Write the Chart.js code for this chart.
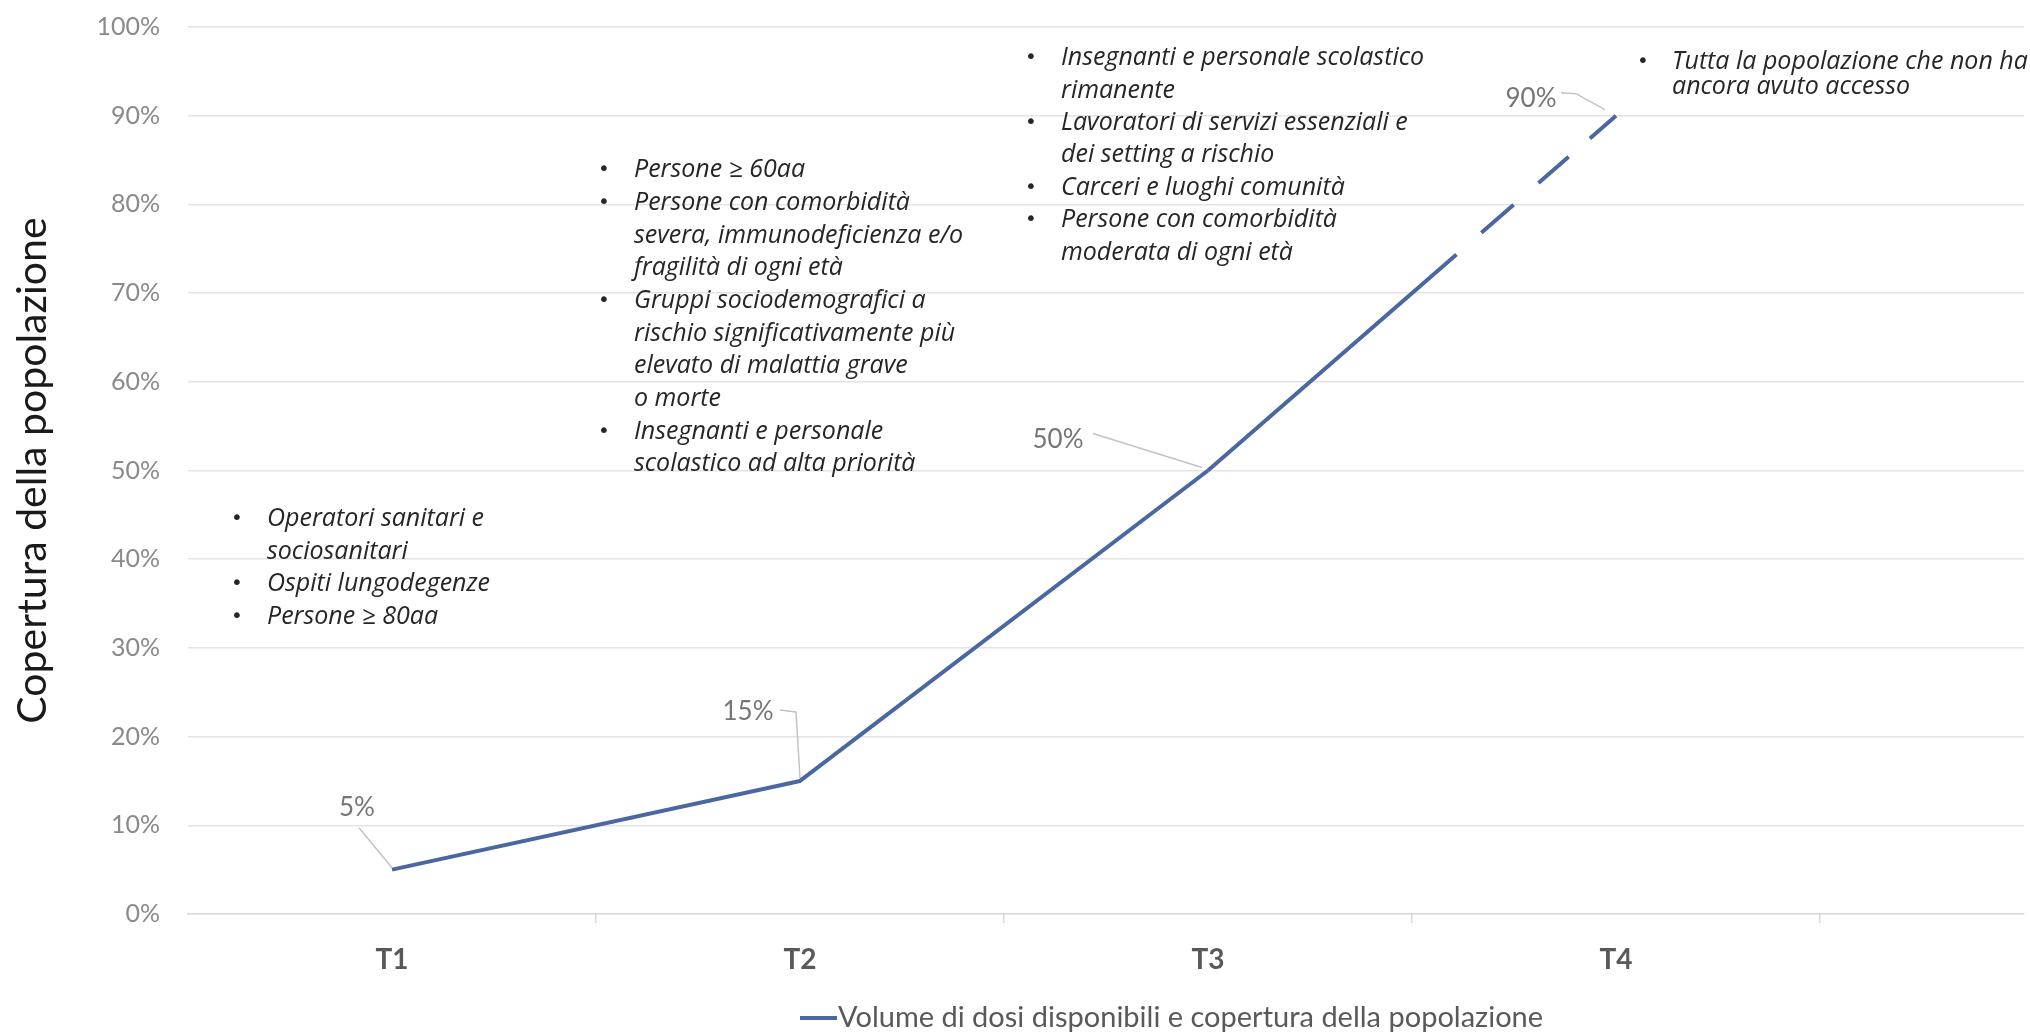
<!DOCTYPE html>
<html>
<head>
<meta charset="utf-8">
<script src="https://cdn.jsdelivr.net/npm/chart.js@4.4.1/dist/chart.umd.min.js"></script>
<style>
html,body{margin:0;padding:0;background:#ffffff;overflow:hidden}
#wrap{position:relative;width:2030px;height:1033px}
</style>
</head>
<body>
<div id="wrap"><canvas id="c"></canvas></div>
<script>
// ---------------- DATA ----------------
const categories = ['T1', 'T2', 'T3', 'T4'];
const coverage = [5, 15, 50, 90];            // % della popolazione
const yTickValues = [0, 10, 20, 30, 40, 50, 60, 70, 80, 90, 100];
const seriesLabel = 'Volume di dosi disponibili e copertura della popolazione';
const yAxisTitle = 'Copertura della popolazione';

// target groups per phase (each bullet = list of wrapped lines)
const groupsT1 = [
  ['Operatori sanitari e', 'sociosanitari'],
  ['Ospiti lungodegenze'],
  ['Persone \u2265 80aa']
];
const groupsT2 = [
  ['Persone \u2265 60aa'],
  ['Persone con comorbidit\u00e0', 'severa, immunodeficienza e/o', 'fragilit\u00e0 di ogni et\u00e0'],
  ['Gruppi sociodemografici a', 'rischio significativamente pi\u00f9', 'elevato di malattia grave', 'o morte'],
  ['Insegnanti e personale', 'scolastico ad alta priorit\u00e0']
];
const groupsT3 = [
  ['Insegnanti e personale scolastico', 'rimanente'],
  ['Lavoratori di servizi essenziali e', 'dei setting a rischio'],
  ['Carceri e luoghi comunit\u00e0'],
  ['Persone con comorbidit\u00e0', 'moderata di ogni et\u00e0']
];
const groupsT4 = [
  ['Tutta la popolazione che non ha', 'ancora avuto accesso']
];

// ---------------- STYLE ----------------
const LINE_COLOR = '#4a67a1';
const notesStyle = [
  { groups: groupsT1, bulletX: 237, textX: 267, y: 519, lh: 32.5 },
  { groups: groupsT2, bulletX: 604, textX: 634, y: 170, lh: 32.7 },
  { groups: groupsT3, bulletX: 1031, textX: 1061, y: 58, lh: 32.4 },
  { groups: groupsT4, bulletX: 1643, textX: 1672, y: 62, lh: 25 }
];
// data label placement relative to the point (style only)
const labelPlacement = [
  { dx: -35, dy: -62, leader: [[-33, -42], [0, -2]] },
  { dx: -52, dy: -69, leader: [[-20, -71], [-4, -69], [0, -3]] },
  { dx: -150, dy: -31, leader: [[-115, -37], [-6, -3]] },
  { dx: -85, dy: -17, leader: [[-55, -23], [-40, -22], [-11, -6]] }
];

const notesPlugin = {
  id: 'notes',
  afterDraw(chart) {
    const ctx = chart.ctx;
    ctx.save();
    ctx.textBaseline = 'middle';
    ctx.fillStyle = '#262626';
    notesStyle.forEach(block => {
      let y = block.y;
      block.groups.forEach(item => {
        ctx.font = '20px "DejaVu Sans"';
        ctx.textAlign = 'center';
        ctx.fillText('\u2022', block.bulletX, y);
        ctx.textAlign = 'left';
        ctx.font = 'italic 25px "Open Sans"';
        item.forEach(line => {
          ctx.fillText(line, block.textX, y);
          y += block.lh;
        });
      });
    });
    ctx.restore();
  }
};

const dataLabelPlugin = {
  id: 'dataLabels',
  afterDatasetsDraw(chart) {
    const ctx = chart.ctx;
    const meta = chart.getDatasetMeta(0);
    const ds = chart.data.datasets[0];
    ctx.save();
    meta.data.forEach((pt, i) => {
      const p = labelPlacement[i];
      ctx.strokeStyle = '#c3c3c3';
      ctx.lineWidth = 1.5;
      ctx.beginPath();
      p.leader.forEach(([lx, ly], k) => {
        if (k === 0) ctx.moveTo(pt.x + lx, pt.y + ly); else ctx.lineTo(pt.x + lx, pt.y + ly);
      });
      ctx.stroke();
      ctx.fillStyle = '#767676';
      ctx.font = '26px Lato';
      ctx.textAlign = 'center';
      ctx.textBaseline = 'middle';
      ctx.fillText(ds.data[i].y + '%', pt.x + p.dx, pt.y + p.dy);
    });
    ctx.restore();
  }
};

const legendPlugin = {
  id: 'customLegend',
  afterDraw(chart) {
    const ctx = chart.ctx;
    const ds = chart.data.datasets[0];
    ctx.save();
    ctx.strokeStyle = ds.borderColor;
    ctx.lineWidth = 4;
    ctx.beginPath();
    ctx.moveTo(800, 1018);
    ctx.lineTo(837, 1018);
    ctx.stroke();
    ctx.fillStyle = '#595959';
    ctx.font = '29px Lato';
    ctx.textAlign = 'left';
    ctx.textBaseline = 'middle';
    ctx.fillText(ds.label, 838, 1018);
    ctx.restore();
  }
};

const points = categories.map((c, i) => ({ x: i + 1, y: coverage[i] }));

new Chart(document.getElementById('c'), {
  type: 'line',
  data: {
    datasets: [{
      label: seriesLabel,
      data: points,
      borderColor: LINE_COLOR,
      borderWidth: 4,
      pointRadius: 0,
      pointHoverRadius: 0,
      tension: 0,
      fill: false,
      borderJoinStyle: 'round',
      segment: {
        borderDash: c => {
          if (c.p0DataIndex !== categories.length - 2) return undefined;
          const L = Math.hypot(c.p1.x - c.p0.x, c.p1.y - c.p0.y);
          return [0.609 * L, 0.061 * L, 0.079 * L, 0.061 * L, 0.074 * L, 0.052 * L, L];
        }
      }
    }]
  },
  options: {
    responsive: true,
    maintainAspectRatio: false,
    animation: false,
    devicePixelRatio: 1,
    layout: { padding: { left: 0, right: 6, top: 27, bottom: 0 } },
    plugins: {
      legend: { display: false },
      tooltip: { enabled: false }
    },
    scales: {
      x: {
        type: 'linear',
        min: 0.5,
        max: categories.length + 1,
        afterBuildTicks: scale => {
          scale.ticks = categories.flatMap((c, i) => [{ value: i + 1 }, { value: i + 1.5 }]);
        },
        afterFit: scale => { scale.height = 119; scale.paddingLeft = 0; scale.paddingRight = 0; },
        grid: {
          drawOnChartArea: false,
          drawTicks: true,
          tickLength: 9,
          lineWidth: 1.5,
          color: c => (c.tick && Number.isInteger(c.tick.value)) ? 'rgba(0,0,0,0)' : '#d9d9d9'
        },
        border: { display: true, color: '#d9d9d9', width: 1.5 },
        ticks: {
          autoSkip: false,
          maxRotation: 0,
          padding: 20,
          color: '#595959',
          font: { family: 'Lato', size: 28, weight: 'bold' },
          callback: v => Number.isInteger(v) ? categories[v - 1] : ''
        }
      },
      y: {
        min: 0,
        max: 100,
        afterBuildTicks: scale => { scale.ticks = yTickValues.map(v => ({ value: v })); },
        afterFit: scale => { scale.width = 188; scale.paddingTop = 0; scale.paddingBottom = 0; },
        grid: { color: '#e4e4e4', lineWidth: 1.5, drawTicks: false },
        border: { display: false },
        ticks: {
          padding: 28,
          color: '#8a8a8a',
          font: { family: 'Lato', size: 25 },
          callback: v => v + '%'
        },
        title: {
          display: true,
          text: yAxisTitle,
          color: '#1a1a1a',
          font: { family: 'Lato', size: 41 },
          padding: { top: 8, bottom: 0 }
        }
      }
    }
  },
  plugins: [dataLabelPlugin, notesPlugin, legendPlugin]
});
</script>
</body>
</html>
